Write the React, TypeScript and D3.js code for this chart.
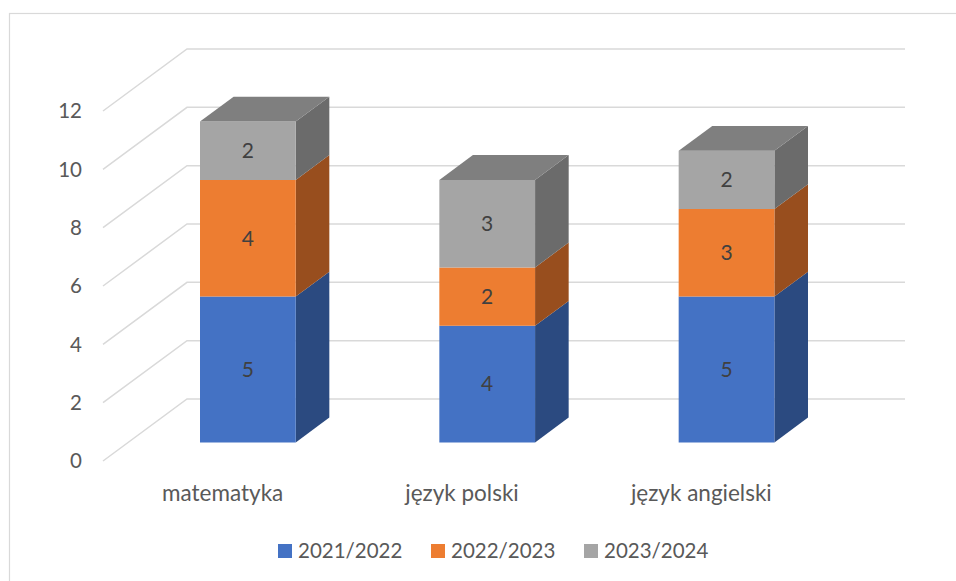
import React, { useEffect, useRef } from 'react';
import * as d3 from 'd3';

const categories = ['matematyka', 'język polski', 'język angielski'];
const seriesNames = ['2021/2022', '2022/2023', '2023/2024'];
const series2021 = [5, 4, 5];
const series2022 = [4, 2, 3];
const series2023 = [2, 3, 2];
const yTicks = [0, 2, 4, 6, 8, 10, 12];

const frontColors = ['#4472C4', '#ED7D31', '#A5A5A5'];
const sideColors = ['#2B4A80', '#984E1E', '#6B6B6B'];
const topColors = ['#2F559B', '#B35E24', '#7F7F7F'];

export default function App() {
  const svgRef = useRef<SVGSVGElement>(null);

  useEffect(() => {
    if (!svgRef.current) return;
    const svg = d3.select(svgRef.current);
    svg.selectAll('*').remove();

    const font = 'Lato, "Open Sans", sans-serif';
    const allSeries = [series2021, series2022, series2023];

    // front plane of the plot
    const x = d3.scaleBand()
      .domain(categories)
      .range([103, 821])
      .paddingInner(0.6)
      .paddingOuter(0.3);
    const step = x.step();
    const y = d3.scaleLinear().domain([0, 12]).range([461, 111]);

    // depth offset of the back wall
    const depthX = 84;
    const depthY = -62;
    const proj = (px: number, py: number, d: number): [number, number] =>
      [px + depthX * d, py + depthY * d];

    // chart border
    svg.append('rect')
      .attr('x', 9.5)
      .attr('y', 13.5)
      .attr('width', 1000)
      .attr('height', 1000)
      .style('fill', 'none')
      .style('stroke', '#D9D9D9')
      .style('stroke-width', 1.2);

    // gridlines: side wall diagonal + back wall
    const xLeft = x.range()[0];
    const xRight = x.range()[1];
    yTicks.forEach(t => {
      const p0 = proj(xLeft, y(t), 0);
      const p1 = proj(xLeft, y(t), 1);
      const p2 = proj(xRight, y(t), 1);
      svg.append('path')
        .attr('d', d3.line()([p0, p1, p2]))
        .style('fill', 'none')
        .style('stroke', '#D9D9D9')
        .style('stroke-width', 1.5);

      svg.append('text')
        .attr('x', 82)
        .attr('y', y(t))
        .attr('dy', '0.35em')
        .attr('text-anchor', 'end')
        .style('font-family', font)
        .style('font-size', '20.5px')
        .style('fill', '#595959')
        .text(t);
    });

    // bars
    const d0 = 0.3;
    const d1 = 0.7;
    categories.forEach((cat, ci) => {
      const bx0 = x(cat)!;
      const bx1 = bx0 + x.bandwidth();
      let base = 0;
      allSeries.forEach((s, si) => {
        const v = s[ci];
        const top = base + v;
        const yb = y(base);
        const yt = y(top);

        const fbl = proj(bx0, yb, d0);
        const ftl = proj(bx0, yt, d0);
        const fbr = proj(bx1, yb, d0);
        const ftr = proj(bx1, yt, d0);
        const bbr = proj(bx1, yb, d1);
        const btr = proj(bx1, yt, d1);
        const btl = proj(bx0, yt, d1);

        // side face
        svg.append('path')
          .attr('d', d3.line()([fbr, bbr, btr, ftr]) + 'Z')
          .style('fill', sideColors[si]);

        // front face
        svg.append('path')
          .attr('d', d3.line()([fbl, fbr, ftr, ftl]) + 'Z')
          .style('fill', frontColors[si]);

        // top face of the stack
        if (si === allSeries.length - 1) {
          svg.append('path')
            .attr('d', d3.line()([ftl, ftr, btr, btl]) + 'Z')
            .style('fill', topColors[si]);
        }

        // value label
        svg.append('text')
          .attr('x', (fbl[0] + fbr[0]) / 2)
          .attr('y', (fbl[1] + ftl[1]) / 2)
          .attr('dy', '0.35em')
          .attr('text-anchor', 'middle')
          .style('font-family', font)
          .style('font-size', '21px')
          .style('fill', '#404040')
          .text(v);

        base = top;
      });

      // category label
      svg.append('text')
        .attr('x', xLeft + step * (ci + 0.5))
        .attr('y', 493)
        .attr('dy', '0.35em')
        .attr('text-anchor', 'middle')
        .style('font-family', font)
        .style('font-size', '22.5px')
        .style('fill', '#595959')
        .text(cat);
    });

    // legend
    const legendX = [278, 431, 584];
    seriesNames.forEach((name, i) => {
      svg.append('rect')
        .attr('x', legendX[i])
        .attr('y', 544)
        .attr('width', 14)
        .attr('height', 14)
        .style('fill', frontColors[i]);
      svg.append('text')
        .attr('x', legendX[i] + 20)
        .attr('y', 551)
        .attr('dy', '0.35em')
        .style('font-family', font)
        .style('font-size', '20.5px')
        .style('fill', '#595959')
        .text(name);
    });
  }, []);

  return (
    <div style={{ position: 'fixed', left: 0, top: 0, background: '#fff' }}>
      <svg ref={svgRef} width={956} height={581} style={{ display: 'block' }} />
    </div>
  );
}
